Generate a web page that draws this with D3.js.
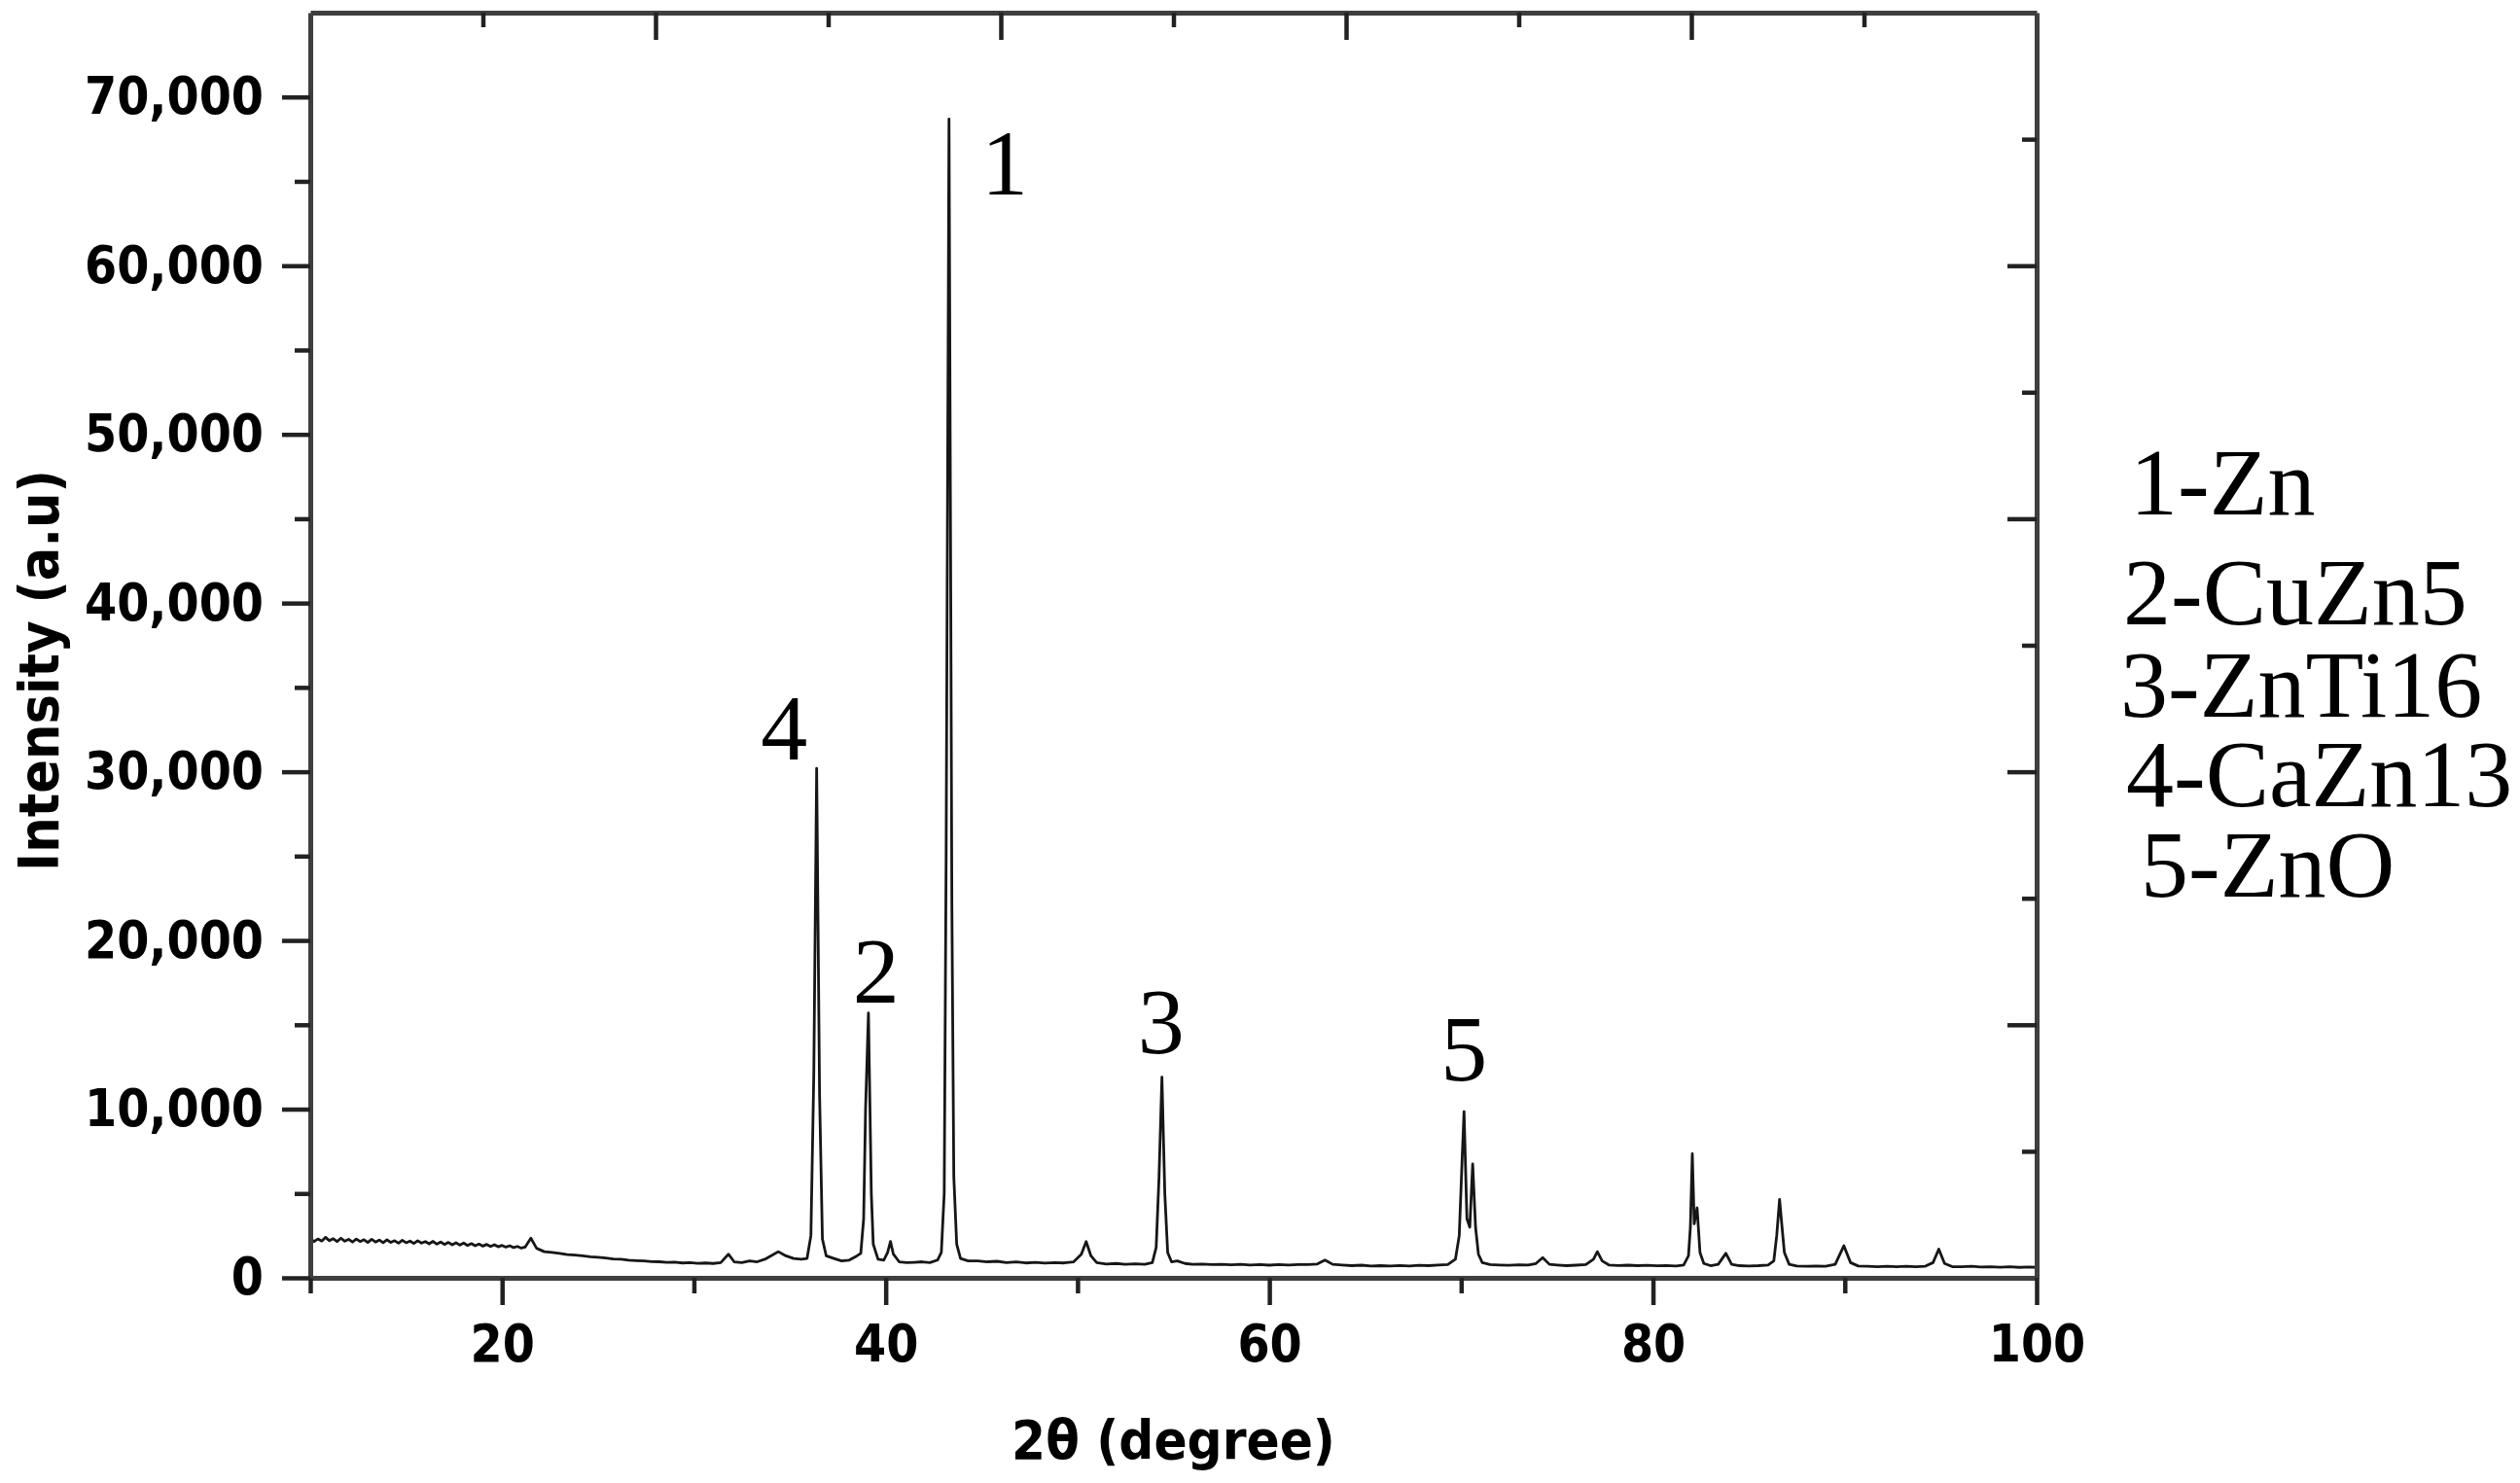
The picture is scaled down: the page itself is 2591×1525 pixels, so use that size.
<!DOCTYPE html>
<html>
<head>
<meta charset="utf-8">
<script src="https://cdn.jsdelivr.net/npm/d3@7"></script>
<style>
  html, body { margin: 0; padding: 0; background: #ffffff; }
  svg { display: block; }
</style>
</head>
<body>
<script>
// ---------------- DATA ----------------
const twoTheta = [
  10.0,10.2,10.4,10.6,10.8,11.0,11.2,11.4,11.6,11.8,
  12.0,12.2,12.4,12.6,12.8,13.0,13.2,13.4,13.6,13.8,
  14.0,14.2,14.4,14.6,14.8,15.0,15.2,15.4,15.6,15.8,
  16.0,16.2,16.4,16.6,16.8,17.0,17.2,17.4,17.6,17.8,
  18.0,18.2,18.4,18.6,18.8,19.0,19.2,19.4,19.6,19.8,
  20.0,20.2,20.4,20.6,20.8,21.0,21.2,
  21.5,21.8,22.2,22.6,23.0,23.4,23.8,24.2,24.6,25.0,25.4,
  25.8,26.2,26.6,27.0,27.4,27.8,28.2,28.6,29.0,29.4,29.8,30.2,30.6,31.0,31.4,31.8,32.1,32.5,32.9,33.3,
  33.7,34.1,34.4,34.8,35.2,35.6,35.9,36.1,36.25,36.4,36.55,36.7,36.9,37.3,37.7,38.1,38.5,38.7,38.85,38.95,
  39.1,39.25,39.35,39.6,39.9,40.1,40.25,40.4,40.7,41.1,41.5,41.9,42.3,42.7,42.9,43.05,43.15,43.3,43.45,43.55,
  43.7,43.9,44.3,44.8,45.3,45.8,46.3,46.8,47.3,47.8,48.3,48.8,49.3,49.8,50.2,50.45,50.7,51.0,51.5,52.0,
  52.5,53.0,53.5,53.9,54.1,54.25,54.4,54.55,54.7,54.9,55.2,55.6,56.0,56.5,57.0,57.5,58.0,58.5,59.0,59.5,
  60.0,60.5,61.0,61.5,62.0,62.5,62.9,63.3,63.8,64.3,64.8,65.3,65.8,66.3,66.8,67.3,67.8,68.3,68.8,69.3,
  69.7,69.9,70.05,70.15,70.3,70.45,70.6,70.75,70.9,71.1,71.5,72.0,72.5,73.0,73.5,73.9,74.25,74.6,75.0,75.5,
  76.0,76.5,76.9,77.1,77.35,77.7,78.2,78.7,79.2,79.7,80.2,80.7,81.2,81.6,81.85,81.95,82.05,82.15,82.3,82.45,
  82.65,83.0,83.4,83.8,84.1,84.5,85.0,85.5,86.0,86.3,86.45,86.6,86.72,86.85,87.1,87.5,88.0,88.5,89.0,89.5,
  89.95,90.3,90.7,91.2,91.7,92.2,92.7,93.2,93.7,94.2,94.6,94.9,95.2,95.6,96.1,96.6,97.1,97.6,98.1,98.6,
  99.1,99.6,100.0
];
const intensity = [
  2350,2150,2300,2180,2400,2200,2320,2150,2350,2170,
  2280,2120,2300,2150,2260,2100,2280,2120,2240,2080,
  2250,2100,2200,2050,2220,2080,2180,2040,2200,2060,
  2150,2020,2160,2000,2120,1980,2100,1960,2080,1940,
  2060,1920,2030,1900,2000,1880,1980,1860,1960,1840,
  1920,1820,1900,1790,1860,1760,1820,
  2350,1750,1550,1500,1450,1380,1350,1300,1250,1220,1180,
  1120,1100,1050,1020,1000,960,950,920,930,880,900,860,880,850,900,1400,950,900,1000,950,
  1100,1350,1550,1300,1150,1100,1150,2500,12000,30200,11000,2300,1300,1150,1000,1050,1300,1450,3500,10000,
  15700,5000,2000,1100,1050,1500,2150,1400,950,900,920,950,900,1050,1500,5000,25000,68700,22000,6000,
  2000,1150,1000,1000,950,980,900,950,880,920,870,900,880,950,1400,2150,1300,900,820,850,
  800,830,800,900,1800,6000,11900,5000,1500,950,1000,850,800,820,780,800,770,800,760,790,
  750,780,760,790,780,820,1050,800,760,720,750,700,720,700,730,700,740,720,760,780,
  1100,2500,7000,9850,3500,3000,6750,3000,1400,900,780,760,740,770,760,850,1200,800,760,720,
  750,780,1100,1550,1000,760,730,750,720,740,710,730,700,760,1300,3000,7350,3200,4150,1500,
  850,720,800,1450,800,720,700,720,760,1000,2500,4650,3100,1500,800,700,680,700,680,800,
  1900,900,700,680,660,690,660,680,660,690,900,1700,850,660,650,680,640,660,630,650,
  620,640,620
];

const xTickValues = [20, 40, 60, 80, 100];
const xMinorValues = [10, 30, 50, 70, 90];
const yTickValues = [0, 10000, 20000, 30000, 40000, 50000, 60000, 70000];
const yMinorValues = [5000, 15000, 25000, 35000, 45000, 55000, 65000];

const peakLabels = ["1", "2", "3", "4", "5"];
const peakLabelTheta = [46.2, 39.5, 54.35, 34.7, 70.15];
const peakLabelIntensity = [64200, 16300, 13300, 30700, 11700];

const legendItems = ["1-Zn", "2-CuZn5", "3-ZnTi16", "4-CaZn13", "5-ZnO"];

const xTitle = "2\u03b8 (degree)";
const yTitle = "Intensity (a.u)";

// ---------------- LAYOUT ----------------
const W = 2591, H = 1525;
const L = 319, R = 2094, T = 13, B = 1314;
const axisColor = "#3f3f3f";
const tickFont = "'DejaVu Sans Condensed', 'DejaVu Sans', sans-serif";
const serif = "'Liberation Serif', 'Times New Roman', serif";

const svg = d3.select("body").append("svg")
  .attr("width", W).attr("height", H)
  .attr("viewBox", `0 0 ${W} ${H}`);

const x = d3.scaleLinear().domain([10, 100]).range([L, R]);
const y = d3.scaleLinear().domain([0, 75000]).range([B, T]);
const xFrac = d3.scaleLinear().domain([0, 1]).range([L, R]);
const yFrac = d3.scaleLinear().domain([0, 1]).range([B, T]);

function styleAxis(g) {
  g.select(".domain").attr("stroke", axisColor).attr("stroke-width", 5);
  g.selectAll(".tick line").attr("stroke", "#222").attr("stroke-width", 4.5);
}

// ---------------- DATA LINE ----------------
const n = Math.min(twoTheta.length, intensity.length);
const pts = twoTheta.slice(0, n).map((t, i) => [t, intensity[i]]);
const line = d3.line().x(d => x(d[0])).y(d => y(d[1]));
svg.append("path")
  .datum(pts)
  .attr("d", line)
  .attr("fill", "none")
  .attr("stroke", "#161616")
  .attr("stroke-width", 2.8)
  .attr("stroke-linejoin", "round");

// ---------------- AXES ----------------
// top mirror (ticks inward)
const gTop = svg.append("g").attr("transform", `translate(0,${T})`)
  .call(d3.axisTop(xFrac).tickValues([0.2, 0.4, 0.6, 0.8]).tickSize(-28).tickSizeOuter(0).tickFormat(""));
gTop.call(styleAxis);
svg.append("g").attr("transform", `translate(0,${T})`)
  .call(d3.axisTop(xFrac).tickValues([0.1, 0.3, 0.5, 0.7, 0.9]).tickSize(-15).tickSizeOuter(0).tickFormat(""))
  .call(g => g.select(".domain").remove())
  .call(styleAxis);

// right mirror (ticks inward)
const gRight = svg.append("g").attr("transform", `translate(${R},0)`)
  .call(d3.axisRight(yFrac).tickValues([0.2, 0.4, 0.6, 0.8]).tickSize(-30).tickSizeOuter(0).tickFormat(""));
gRight.call(styleAxis);
svg.append("g").attr("transform", `translate(${R},0)`)
  .call(d3.axisRight(yFrac).tickValues([0.1, 0.3, 0.5, 0.7, 0.9]).tickSize(-15).tickSizeOuter(0).tickFormat(""))
  .call(g => g.select(".domain").remove())
  .call(styleAxis);

// bottom
const gBottom = svg.append("g").attr("transform", `translate(0,${B})`)
  .call(d3.axisBottom(x).tickValues(xTickValues).tickSize(28).tickPadding(20).tickSizeOuter(0));
gBottom.call(styleAxis);
svg.append("g").attr("transform", `translate(0,${B})`)
  .call(d3.axisBottom(x).tickValues(xMinorValues).tickSize(16).tickSizeOuter(0).tickFormat(""))
  .call(g => g.select(".domain").remove())
  .call(styleAxis);

// left
const gLeft = svg.append("g").attr("transform", `translate(${L},0)`)
  .call(d3.axisLeft(y).tickValues(yTickValues).tickSize(29).tickPadding(19).tickSizeOuter(0)
    .tickFormat(d3.format(",")));
gLeft.call(styleAxis);
svg.append("g").attr("transform", `translate(${L},0)`)
  .call(d3.axisLeft(y).tickValues(yMinorValues).tickSize(16).tickSizeOuter(0).tickFormat(""))
  .call(g => g.select(".domain").remove())
  .call(styleAxis);

[gBottom, gLeft].forEach(g => g.selectAll(".tick text")
  .attr("font-family", tickFont).attr("font-weight", "bold")
  .attr("font-size", 53).attr("fill", "#000"));

// ---------------- TITLES ----------------
svg.append("text")
  .attr("x", (L + R) / 2).attr("y", 1500)
  .attr("text-anchor", "middle")
  .attr("font-family", tickFont).attr("font-weight", "bold").attr("font-size", 56)
  .attr("fill", "#000")
  .text(xTitle);

svg.append("text")
  .attr("transform", `translate(60,${(T + B) / 2 + 26}) rotate(-90)`)
  .attr("text-anchor", "middle")
  .attr("font-family", tickFont).attr("font-weight", "bold").attr("font-size", 57)
  .attr("fill", "#000")
  .text(yTitle);

// ---------------- PEAK LABELS ----------------
svg.append("g").selectAll("text")
  .data(peakLabels)
  .join("text")
  .attr("x", (d, i) => x(peakLabelTheta[i]))
  .attr("y", (d, i) => y(peakLabelIntensity[i]))
  .attr("text-anchor", "middle")
  .attr("font-family", serif).attr("font-size", 96).attr("fill", "#000")
  .text(d => d);

// ---------------- LEGEND ----------------
const legendX = 2183, legendY0 = 529;
const legendDx = [7, 0, -3, 3, 18];
const legendDy = [0, 113, 208, 300, 393];
svg.append("g").selectAll("text")
  .data(legendItems)
  .join("text")
  .attr("x", (d, i) => legendX + legendDx[i])
  .attr("y", (d, i) => legendY0 + legendDy[i])
  .attr("font-family", serif).attr("font-size", 98).attr("fill", "#000")
  .text(d => d);
</script>
</body>
</html>
